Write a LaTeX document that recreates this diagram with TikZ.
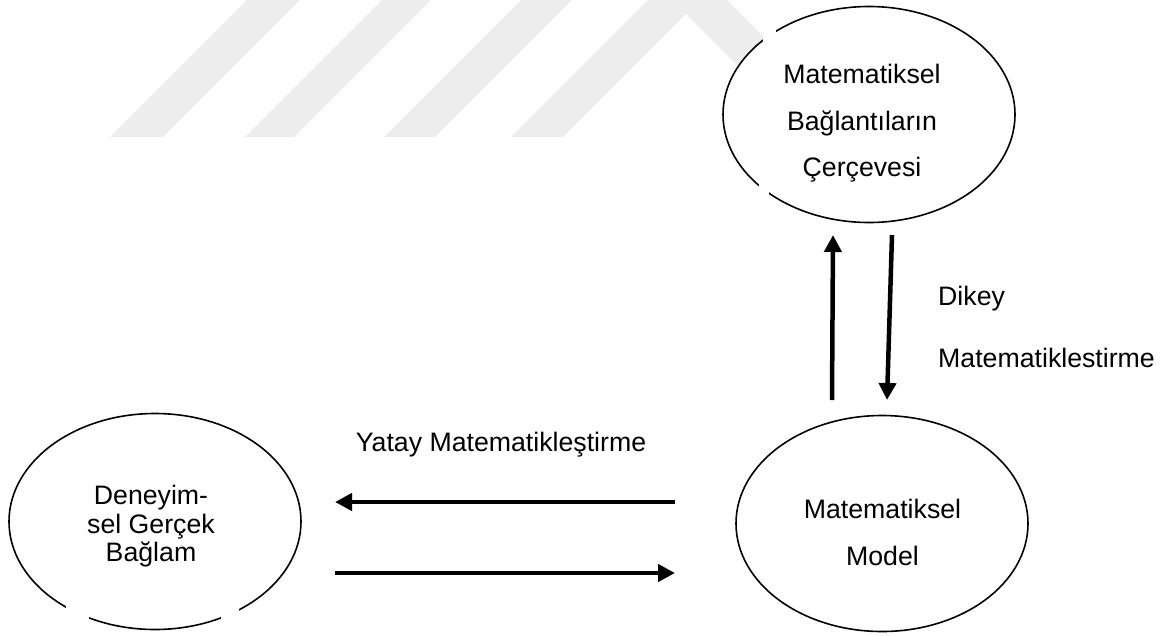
\documentclass[tikz,border=0pt]{standalone}
\usepackage{fontspec}
\setmainfont{Liberation Sans}
\usetikzlibrary{arrows.meta,shapes.geometric}
\definecolor{wmgray}{HTML}{EDEDED}
\begin{document}
\begin{tikzpicture}[x=1pt,y=-1pt,
  bubble/.style={ellipse,draw=black,line width=1.6pt,fill=white,inner sep=0pt,
    minimum width=292pt,minimum height=216pt},
  txt/.style={inner sep=0pt,font=\fontsize{26.7}{30}\selectfont},
  flow/.style={line width=4.5pt,-{Triangle[length=17pt,width=17pt]}},
  gapmask/.style={fill=white,draw=none}]
\useasboundingbox (0,0) rectangle (1166,635);

% faint stripes in the background
\fill[wmgray] (110,137) -- (247,0) -- (300,0) -- (163,137) -- cycle;
\fill[wmgray] (245,137) -- (382,0) -- (431,0) -- (294,137) -- cycle;
\fill[wmgray] (384,137) -- (521,0) -- (572,0) -- (435,137) -- cycle;
\fill[wmgray] (511,137) -- (648,0) -- (727,0) -- (864,137) -- (809,137)
  -- (686,14) -- (563,137) -- cycle;

% the three ellipses
\node[bubble] (frame)   at (869,114.5) {};
\node[bubble] (context) at (155,521.5) {};
\node[bubble] (model)   at (882,523.5) {};

% breaks in the outlines
\fill[gapmask] (763,24) rectangle (776,48);
\fill[gapmask] (759,181) rectangle (769,199);
\fill[gapmask] (66,598) rectangle (89,628);
\fill[gapmask] (221,598) rectangle (239,628);

% texts inside the ellipses
\node[txt,anchor=base] (f1) at (862,83)  {Matematiksel};
\node[txt,anchor=base] (f2) at (862,130) {Bağlantıların};
\node[txt,anchor=base] (f3) at (862,176) {Çerçevesi};

\node[txt,anchor=base] (c1) at (151,504) {Deneyim-};
\node[txt,anchor=base] (c2) at (151,533) {sel Gerçek};
\node[txt,anchor=base] (c3) at (151,561) {Bağlam};

\node[txt,anchor=base] (m1) at (882.5,518) {Matematiksel};
\node[txt,anchor=base] (m2) at (882.5,565) {Model};

% arrow labels
\node[txt,anchor=base] (hlab) at (501,451) {Yatay Matematikleştirme};
\node[txt,anchor=base west] (vlab1) at (938,305) {Dikey};
\node[txt,anchor=base west] (vlab2) at (938,367) {Matematiklestirme};

% arrow end points
\coordinate (upS)   at (832,400);
\coordinate (upE)   at (833,235);
\coordinate (dnS)   at (892,235);
\coordinate (dnE)   at (887,400);
\coordinate (ltS)   at (675,502);
\coordinate (ltE)   at (335,502);
\coordinate (rtS)   at (335,573);
\coordinate (rtE)   at (675,573);

\draw[flow] (upS) -- (upE);
\draw[flow] (dnS) -- (dnE);
\draw[flow] (ltS) -- (ltE);
\draw[flow] (rtS) -- (rtE);
\end{tikzpicture}
\end{document}
